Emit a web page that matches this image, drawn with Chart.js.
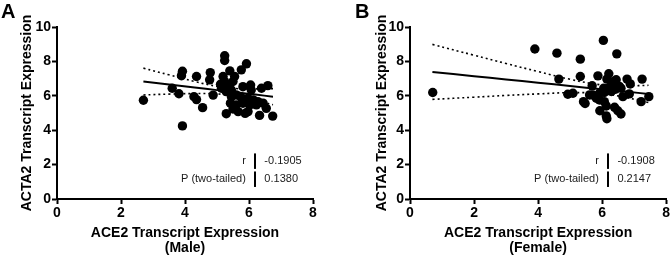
<!DOCTYPE html>
<html>
<head>
<meta charset="utf-8">
<script src="https://cdn.jsdelivr.net/npm/chart.js@4.4.1/dist/chart.umd.min.js"></script>
<style>
  body { margin: 0; background: #fff; }
  #wrap { position: relative; width: 671px; height: 258px; overflow: hidden; }
  .panel { position: absolute; top: 0; height: 258px; }
  .tag { position: absolute; font: bold 20px "Liberation Sans", Arial, sans-serif; color: #000; }
</style>
</head>
<body>
<div id="wrap">
  <div class="panel" style="left:0;width:336px"><canvas id="chartA"></canvas></div>
  <div class="panel" style="left:336px;width:335px"><canvas id="chartB"></canvas></div>
  <div class="tag" style="left:1px;top:0px">A</div>
  <div class="tag" style="left:355px;top:0px">B</div>
</div>
<script>
// panel A - male
const maleX = [2.70, 3.60, 3.81, 3.92, 3.89, 3.92, 4.28, 4.36, 4.36, 4.55, 4.79, 4.77, 4.88, 5.24, 5.24, 5.92, 5.19, 5.40, 5.55, 5.76,
  5.24, 5.11, 5.34, 5.50, 5.81, 6.05, 5.14, 5.29, 5.45, 6.07, 6.39, 6.59, 5.45, 5.60, 5.76, 5.97, 6.13, 6.28, 5.42, 5.60,
  5.81, 6.02, 6.23, 6.44, 6.54, 5.50, 5.66, 5.88, 5.29, 5.97, 6.33, 6.74];
const maleY = [5.74, 6.44, 6.12, 7.43, 7.17, 4.25, 5.95, 5.78, 7.12, 5.31, 7.35, 6.93, 6.04, 8.33, 8.05, 7.86, 7.12, 7.45, 7.12, 7.51,
  6.83, 6.67, 6.63, 6.83, 6.53, 6.63, 6.44, 6.24, 6.34, 6.34, 6.44, 6.59, 5.95, 6.05, 5.89, 5.86, 5.76, 5.66, 5.57, 5.47,
  5.57, 5.47, 5.47, 5.57, 5.27, 5.23, 5.08, 4.98, 4.96, 5.08, 4.86, 4.82];
// fit line and 95% band, read at a few x positions
const maleFitX = [2.7, 3.5, 4.3, 5.0, 5.6, 6.2, 6.75];
const maleFit = [6.83, 6.66, 6.48, 6.33, 6.20, 6.07, 5.95];
const maleUpper = [7.61, 7.22, 6.83, 6.55, 6.42, 6.40, 6.42];
const maleLower = [6.05, 6.10, 6.13, 6.11, 5.98, 5.74, 5.48];
const maleStats = ['-0.1905', '0.1380'];

// panel B - female
const femaleX = [0.71, 3.90, 4.59, 4.65, 5.32, 5.32, 6.04, 6.46, 4.93, 5.09, 5.42, 5.47, 5.69, 5.61, 5.82, 5.87, 6.21, 6.15, 6.44, 6.78,
  7.25, 6.88, 6.33, 6.23, 6.42, 6.59, 5.71, 5.92, 6.07, 6.65, 6.85, 7.46, 7.22, 5.92, 6.07, 6.13, 5.93, 6.39, 6.49, 6.59,
  6.13, 6.15, 6.29, 6.05, 6.36, 6.54];
const femaleY = [6.19, 8.72, 8.48, 6.97, 8.13, 7.12, 9.22, 8.44, 6.09, 6.15, 5.66, 5.55, 6.58, 6.05, 5.86, 7.16, 7.28, 6.97, 6.93, 6.97,
  6.97, 6.69, 6.69, 6.50, 6.38, 6.44, 6.05, 6.15, 6.19, 5.95, 6.11, 5.95, 5.66, 5.76, 5.66, 5.41, 5.13, 5.33, 5.13, 4.94,
  4.83, 4.67, 6.25, 6.44, 6.83, 6.55];
const femaleFitX = [0.7, 2.0, 3.0, 4.0, 5.0, 6.0, 6.8, 7.45];
const femaleFit = [7.39, 7.14, 6.95, 6.76, 6.57, 6.38, 6.23, 6.11];
const femaleUpper = [8.99, 8.36, 7.88, 7.41, 6.96, 6.63, 6.58, 6.61];
const femaleLower = [5.79, 5.92, 6.02, 6.11, 6.18, 6.13, 5.88, 5.61];
const femaleStats = ['-0.1908', '0.2147'];

const statLabels = ['r', 'P (two-tailed)'];
const xTicks = [0, 2, 4, 6, 8];
const yTicks = [0, 2, 4, 6, 8, 10];

const FONT = '"Liberation Sans", Arial, Helvetica, sans-serif';

function toPoints(xs, ys) {
  let pts = [];
  for (let i = 0; i < xs.length; i++) {
    pts.push({x: xs[i], y: ys[i]});
  }
  return pts;
}

// r / P table drawn inside the plot, placed with the chart scales
const statsPlugin = {
  id: 'statsTable',
  afterDatasetsDraw(chart, args, opts) {
    const ctx = chart.ctx;
    const xs = chart.scales.x;
    const ys = chart.scales.y;
    const rowY = [2.2, 1.15];
    ctx.save();
    ctx.font = '11px ' + FONT;
    ctx.textBaseline = 'middle';
    for (let i = 0; i < statLabels.length; i++) {
      let py = ys.getPixelForValue(rowY[i]);
      ctx.fillStyle = '#1a1a1a';
      ctx.textAlign = 'right';
      ctx.fillText(statLabels[i], xs.getPixelForValue(5.9), py);
      ctx.textAlign = 'left';
      ctx.fillText(opts.values[i], xs.getPixelForValue(6.48), py);
      // the little divider bar
      ctx.fillStyle = '#000';
      let bx = Math.round(xs.getPixelForValue(6.2));
      let top = ys.getPixelForValue(rowY[i] + 0.45);
      ctx.fillRect(bx - 1, top, 2, ys.getPixelForValue(rowY[i] - 0.45) - top);
    }
    ctx.restore();
  }
};

function makeChart(id, cfg) {
  const ctx = document.getElementById(id).getContext('2d');
  const lineStyle = {showLine: true, pointRadius: 0, borderColor: '#000', fill: false, tension: 0.4};
  return new Chart(ctx, {
    type: 'scatter',
    data: {
      datasets: [
        Object.assign({data: toPoints(cfg.fitX, cfg.fit), borderWidth: 2}, lineStyle),
        Object.assign({data: toPoints(cfg.fitX, cfg.upper), borderWidth: 1.6, borderDash: [2, 3]}, lineStyle),
        Object.assign({data: toPoints(cfg.fitX, cfg.lower), borderWidth: 1.6, borderDash: [2, 3]}, lineStyle),
        {
          data: toPoints(cfg.xs, cfg.ys),
          pointRadius: 4.7,
          pointBackgroundColor: '#000',
          pointBorderWidth: 0,
          showLine: false
        }
      ]
    },
    options: {
      responsive: true,
      maintainAspectRatio: false,
      animation: false,
      events: [],
      layout: {padding: {top: 27, right: cfg.padRight, bottom: 0, left: 0}},
      plugins: {
        legend: {display: false},
        tooltip: {enabled: false},
        statsTable: {values: cfg.stats}
      },
      scales: {
        x: {
          type: 'linear',
          min: 0,
          max: 8,
          afterBuildTicks: (s) => { s.ticks = xTicks.map(v => ({value: v})); },
          afterFit: (s) => { s.height = 59; },
          grid: {drawOnChartArea: false, drawTicks: true, tickLength: 5, tickWidth: 2, tickColor: '#000'},
          border: {display: true, color: '#000', width: 2},
          ticks: {color: '#000', font: {family: FONT, size: 14, weight: 'bold'}, padding: 1, maxRotation: 0},
          title: {
            display: true,
            text: ['ACE2 Transcript Expression', cfg.group],
            color: '#000',
            font: {family: FONT, size: 14, weight: 'bold', lineHeight: '15px'},
            padding: {top: 0, bottom: 2.5}
          }
        },
        y: {
          type: 'linear',
          min: 0,
          max: 10,
          afterBuildTicks: (s) => { s.ticks = yTicks.map(v => ({value: v})); },
          afterFit: (s) => { s.width = cfg.yWidth; },
          grid: {drawOnChartArea: false, drawTicks: true, tickLength: 5, tickWidth: 2, tickColor: '#000'},
          border: {display: true, color: '#000', width: 2},
          ticks: {color: '#000', font: {family: FONT, size: 14, weight: 'bold'}, padding: 1},
          title: {
            display: true,
            text: 'ACTA2 Transcript Expression',
            color: '#000',
            font: {family: FONT, size: 14, weight: 'bold', lineHeight: '16px'},
            padding: {top: cfg.titlePad, bottom: 0}
          }
        }
      }
    },
    plugins: [statsPlugin]
  });
}

makeChart('chartA', {
  xs: maleX, ys: maleY, fitX: maleFitX, fit: maleFit, upper: maleUpper, lower: maleLower,
  stats: maleStats, group: '(Male)', yWidth: 57, titlePad: 19.5, padRight: 23
});
makeChart('chartB', {
  xs: femaleX, ys: femaleY, fitX: femaleFitX, fit: femaleFit, upper: femaleUpper, lower: femaleLower,
  stats: femaleStats, group: '(Female)', yWidth: 74, titlePad: 38.5, padRight: 4
});
</script>
</body>
</html>
